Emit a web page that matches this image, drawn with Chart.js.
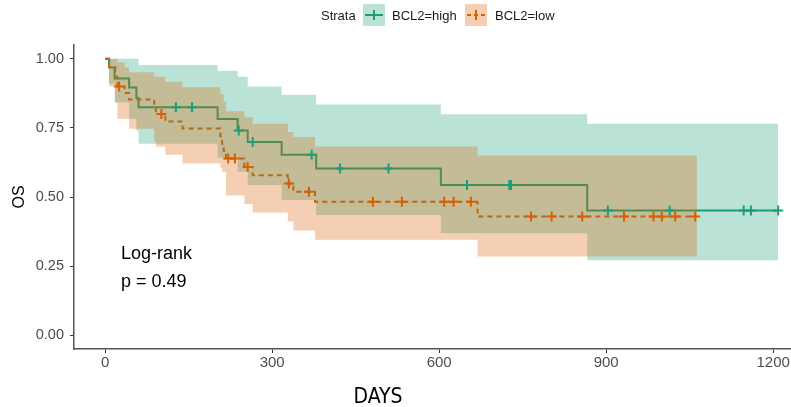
<!DOCTYPE html>
<html>
<head>
<meta charset="utf-8">
<script src="https://cdn.jsdelivr.net/npm/chart.js@4.4.1/dist/chart.umd.min.js"></script>
<style>
  html, body { margin: 0; padding: 0; background: #fff; }
  #wrap { width: 791px; height: 407px; }
</style>
</head>
<body>
<div id="wrap"><canvas id="km" width="791" height="407"></canvas></div>
<script>
// Kaplan-Meier curves (days -> overall survival) with 95% bands, by BCL2 stratum
const highTimes  = [0, 7, 17, 43, 56, 60, 202, 238, 256, 317, 379, 603, 866, 1209];
const highSurv   = [1, 0.969, 0.929, 0.896, 0.858, 0.825, 0.782, 0.741, 0.699, 0.653, 0.603, 0.543, 0.451, 0.451];
const highUpper  = [1, 1, 1, 1, 1, 0.978, 0.957, 0.935, 0.90, 0.87, 0.835, 0.799, 0.765, 0.765];
const highLower  = [1, 0.91, 0.843, 0.783, 0.74, 0.693, 0.643, 0.591, 0.543, 0.489, 0.435, 0.369, 0.271, 0.271];
const highCensor = [127, 156, 240, 265, 371, 422, 509, 650, 726, 729, 903, 1014, 1147, 1160, 1209];

const lowTimes  = [0, 7, 18, 22, 35, 43, 88, 91, 108, 139, 207, 210, 213, 217, 250, 265, 328, 338, 377, 669, 1063];
const lowSurv   = [1, 0.97, 0.935, 0.90, 0.876, 0.853, 0.826, 0.80, 0.773, 0.748, 0.72, 0.693, 0.666, 0.639, 0.609, 0.579, 0.549, 0.519, 0.483, 0.429, 0.429];
const lowUpper  = [1, 1, 1, 0.987, 0.969, 0.951, 0.935, 0.935, 0.917, 0.897, 0.873, 0.873, 0.846, 0.81, 0.789, 0.765, 0.735, 0.717, 0.683, 0.65, 0.65];
const lowLower  = [1, 0.90, 0.84, 0.783, 0.783, 0.747, 0.70, 0.683, 0.653, 0.621, 0.605, 0.591, 0.591, 0.505, 0.475, 0.444, 0.411, 0.379, 0.345, 0.285, 0.285];
const lowCensor = [25, 101, 221, 233, 256, 330, 366, 481, 533, 609, 626, 657, 765, 802, 857, 932, 985, 1000, 1024, 1060];

const strata = ['BCL2=high', 'BCL2=low'];
const xTicks = [0, 300, 600, 900, 1200];
const yTicks = [0, 0.25, 0.5, 0.75, 1];
const pValue = '0.49';

const GREEN = '#1B9E77';
const ORANGE = '#D95F02';
const GREEN_BAND = 'rgba(27,158,119,0.3)';
const ORANGE_BAND = 'rgba(217,95,2,0.3)';
const FONT = "'Liberation Sans', Arial, sans-serif";

// ─── helpers ────────────────────────────────────────────────────────────────
const toPoints = (xs, ys) => xs.map((x, i) => ({ x, y: ys[i] }));

function survAt(xs, ys, t) {
  let s = ys[0];
  for (let i = 0; i < xs.length; i++) if (xs[i] <= t) s = ys[i];
  return s;
}

const censorPoints = (cs, xs, ys) => cs.map(t => ({ x: t, y: survAt(xs, ys, t) }));

const stepLine = (data, color, order, dash) => ({
  data, order, stepped: true, borderColor: color, borderWidth: 2,
  borderDash: dash || [], pointRadius: 0, fill: false,
});

const band = (data, fill, order, target) => ({
  data, order, stepped: true, borderColor: 'rgba(0,0,0,0)', borderWidth: 0,
  pointRadius: 0, fill: target ? { target: '+1' } : false, backgroundColor: fill,
});

const marks = (data, color) => ({
  data, order: 0, showLine: false, pointStyle: 'cross', pointRadius: 5,
  pointBorderWidth: 2, pointBorderColor: color, borderColor: color,
});

// ─── legend, log-rank note and x title ──────────────────────────────────────
function drawKey(ctx, x, y, fill, stroke, dash) {
  ctx.fillStyle = fill;
  ctx.fillRect(x, y, 22, 22);
  ctx.strokeStyle = stroke;
  ctx.lineWidth = 2;
  ctx.setLineDash(dash);
  ctx.beginPath(); ctx.moveTo(x + 2, y + 11); ctx.lineTo(x + 20, y + 11); ctx.stroke();
  ctx.setLineDash([]);
  ctx.beginPath(); ctx.moveTo(x + 11, y + 6); ctx.lineTo(x + 11, y + 16); ctx.stroke();
}

const kmDecor = {
  id: 'kmDecor',
  afterDraw(chart) {
    const ctx = chart.ctx;
    ctx.save();
    ctx.textBaseline = 'middle';
    ctx.textAlign = 'left';
    ctx.fillStyle = '#1a1a1a';
    ctx.font = '13px ' + FONT;
    ctx.fillText('Strata', 321, 16);
    drawKey(ctx, 363, 4, GREEN_BAND, GREEN, []);
    ctx.fillStyle = '#1a1a1a';
    ctx.fillText(strata[0], 392, 16);
    drawKey(ctx, 465, 4, ORANGE_BAND, ORANGE, [4, 3]);
    ctx.fillStyle = '#1a1a1a';
    ctx.fillText(strata[1], 495, 16);

    ctx.fillStyle = '#000';
    ctx.font = '18px ' + FONT;
    ctx.fillText('Log-rank', 121, 254);
    ctx.fillText('p = ' + pValue, 121, 282);

    ctx.textAlign = 'center';
    ctx.font = "21px 'Liberation Sans Narrow', 'DejaVu Sans Condensed', sans-serif";
    ctx.fillText('DAYS', 378, 398);
    ctx.restore();
  }
};

// ─── chart ──────────────────────────────────────────────────────────────────
new Chart(document.getElementById('km'), {
  type: 'line',
  data: {
    datasets: [
      stepLine(toPoints(highTimes, highSurv), GREEN, 4),
      stepLine(toPoints(lowTimes, lowSurv), ORANGE, 3, [5, 4]),
      band(toPoints(highTimes, highUpper), GREEN_BAND, 2, true),
      band(toPoints(highTimes, highLower), GREEN_BAND, 2, false),
      band(toPoints(lowTimes, lowUpper), ORANGE_BAND, 1, true),
      band(toPoints(lowTimes, lowLower), ORANGE_BAND, 1, false),
      marks(censorPoints(highCensor, highTimes, highSurv), GREEN),
      marks(censorPoints(lowCensor, lowTimes, lowSurv), ORANGE),
    ],
  },
  options: {
    responsive: false,
    animation: false,
    events: [],
    layout: { autoPadding: false, padding: { top: 45, right: 0, left: 0, bottom: 0 } },
    plugins: { legend: { display: false }, tooltip: { enabled: false } },
    scales: {
      x: {
        type: 'linear', min: -56, max: 1232,
        afterBuildTicks: s => { s.ticks = xTicks.map(v => ({ value: v })); },
        afterFit: s => { s.height = 58; s.paddingLeft = 0; s.paddingRight = 0; },
        grid: { drawOnChartArea: false, drawTicks: true, tickLength: 4, color: '#333', lineWidth: 1 },
        border: { display: true, color: '#555', width: 1.5 },
        ticks: { padding: 1, color: '#4d4d4d', font: { family: FONT, size: 15 }, maxRotation: 0, callback: v => String(v) },
      },
      y: {
        type: 'linear', min: -0.05, max: 1.05,
        afterBuildTicks: s => { s.ticks = yTicks.map(v => ({ value: v })); },
        afterFit: s => { s.width = 74; s.paddingTop = 0; s.paddingBottom = 0; },
        grid: { drawOnChartArea: false, drawTicks: true, tickLength: 4, color: '#333', lineWidth: 1 },
        border: { display: true, color: '#555', width: 1.5 },
        ticks: { padding: 6, color: '#4d4d4d', font: { family: FONT, size: 14.5 }, callback: v => v.toFixed(2) },
        title: { display: true, text: 'OS', color: '#000', font: { family: FONT, size: 16 }, padding: { top: 10, bottom: 0 } },
      },
    },
  },
  plugins: [kmDecor],
});
</script>
</body>
</html>
